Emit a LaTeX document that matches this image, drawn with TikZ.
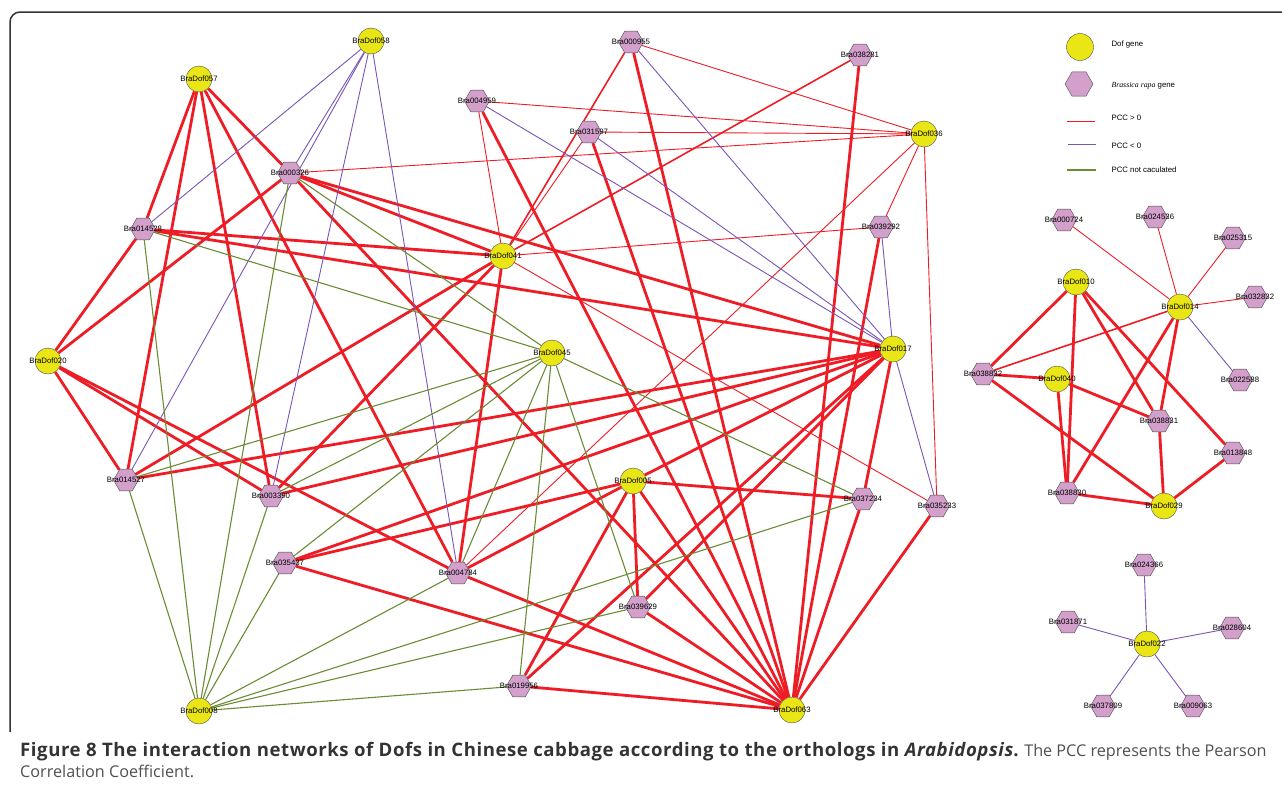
\documentclass[tikz,border=0pt]{standalone}
\usepackage{fontspec}
\setmainfont{Liberation Sans}
\newfontfamily\captionfont{Open Sans}
\newfontfamily\legendserif{Liberation Serif}
\usetikzlibrary{shapes.geometric}
\definecolor{dofYellow}{HTML}{EAE616}
\definecolor{braPink}{HTML}{D2A0CB}
\definecolor{colPos}{HTML}{EE1D25}
\definecolor{colNeg}{HTML}{7A55B5}
\definecolor{colNA}{HTML}{6A8C34}
\definecolor{frameGrey}{HTML}{333333}
\definecolor{capGrey}{HTML}{505050}
\definecolor{capDark}{HTML}{333333}
\pgfdeclarelayer{background}
\pgfsetlayers{background,main}

\begin{document}
\begin{tikzpicture}[x=1pt, y=-1pt, font=\fontsize{7.8}{9}\selectfont,
    dof/.style={circle, draw=black!70, fill=dofYellow, minimum size=26pt, inner sep=0pt},
    gene/.style={regular polygon, regular polygon sides=6, draw=black!70, fill=braPink,
                 minimum size=25pt, inner sep=0pt},
    pccpos/.style={colPos, line width=2.8pt},
    pccposmid/.style={colPos, line width=1.6pt},
    pccposthin/.style={colPos, line width=0.9pt},
    pccneg/.style={colNeg, line width=0.9pt},
    pccna/.style={colNA, line width=1.1pt},
    captext/.style={anchor=base west, inner sep=0pt, text=capGrey,
                    font=\captionfont\fontsize{16.2}{21}\selectfont}]
    \useasboundingbox (0,0) rectangle (1282,793);
    \draw[frameGrey, line width=1.5pt, rounded corners=10pt] (10,732) -- (10,12) -- (1282,12);

    \foreach \n/\x/\y in {057/199/79, 058/371/41, 036/924/134, 041/503/256, 020/48/361,
                          045/552/353, 017/893/349, 005/633/481, 008/199/711, 063/792/710,
                          010/1076/282, 014/1180/307, 040/1057/379, 029/1164/506, 022/1147/644}
      \node[dof, label={center:BraDof\n}] (d\n) at (\x,\y) {};
    \foreach \n/\x/\y in {000955/631/42, 038281/860/55, 004959/477/101, 031597/589/132,
                          000326/290/173, 014528/143/229, 039292/881/227, 014527/126/480,
                          003390/271/496, 037234/863/499, 035233/937/506, 035437/285/563,
                          004784/458/573, 039629/638/607, 019956/519/686,
                          000724/1064/220, 024536/1155/217, 025315/1233/238, 032832/1255/297,
                          038832/983/374, 022588/1240/380, 038831/1159/421, 013848/1233/453,
                          038830/1067/493, 024366/1144/565, 031871/1068/622, 028604/1232/628,
                          037809/1103/706, 009063/1193/706}
      \node[gene, label={center:Bra\n}] (b\n) at (\x,\y) {};

    \begin{pgfonlayer}{background}
    \foreach \a/\b in {d057/b014528, d057/b014527, d057/b003390, d057/b004784, d057/b000326,
                       d020/b014528, d020/b000326, d020/b014527, d020/b003390, d020/b004784,
                       b000326/d041, b000326/d017, b000326/d063, b014528/d041, b014528/d017,
                       d041/b014527, d041/b003390, d041/b004784,
                       d017/b014527, d017/b003390, d017/b035437, d017/d005, d017/b019956,
                       d017/b039629, d017/b037234,
                       d005/b035437, d005/b004784, d005/b037234, d005/b019956, d005/b039629, d005/d063,
                       d063/b000955, d063/b038281, d063/b004959, d063/b031597, d063/b039292,
                       d063/b037234, d063/b035233, d063/b039629, d063/b004784, d063/b035437,
                       d063/b019956,
                       d014/b038830, d014/b038831, d010/b038832, d010/b038830, d010/b038831,
                       d010/b013848, d040/b038832, d040/b038830, d040/b038831,
                       d029/b038832, d029/b038830, d029/b038831, d029/b013848}
      \draw[pccpos] (\a) -- (\b);
    \foreach \a/\b in {b000955/d041, b038281/d041, d014/b038832}
      \draw[pccposmid] (\a) -- (\b);
    \foreach \a/\b in {d036/b000955, d036/b004959, d036/b031597, d036/b000326, d036/b039292,
                       d036/b035233, d036/b004784, d041/b004959, d041/b031597, d041/b039292,
                       d041/b035233, d014/b000724, d014/b024536, d014/b025315, d014/b032832}
      \draw[pccposthin] (\a) -- (\b);
    \foreach \a/\b in {d058/b014528, d058/b000326, d058/b014527, d058/b003390, d058/b004784,
                       d017/b000955, d017/b004959, d017/b031597, d017/b039292, d017/b035233,
                       d014/b022588, d022/b024366, d022/b031871, d022/b028604, d022/b037809,
                       d022/b009063}
      \draw[pccneg] (\a) -- (\b);
    \foreach \a/\b in {d045/b000326, d045/b014528, d045/b014527, d045/b003390, d045/b035437,
                       d045/b004784, d045/b019956, d045/b039629, d045/b037234,
                       d008/b014527, d008/b014528, d008/b000326, d008/b003390, d008/b035437,
                       d008/b004784, d008/b037234, d008/b039629, d008/b019956}
      \draw[pccna] (\a) -- (\b);
    \end{pgfonlayer}

    \node[dof, minimum size=27pt] (keydof) at (1080,47) {};
    \node[anchor=west] (keydoftxt) at (1108,44) {Dof gene};
    \node[gene, minimum size=28pt] (keygene) at (1079,84) {};
    \node[anchor=west] (keygenetxt) at (1108,86) {{\legendserif\itshape Brassica rapa} gene};
    \coordinate (keypos1) at (1067,121);
    \coordinate (keypos2) at (1095,121);
    \coordinate (keyneg1) at (1068,144);
    \coordinate (keyneg2) at (1096,144);
    \coordinate (keyna1) at (1067,170);
    \coordinate (keyna2) at (1096,170);
    \draw[pccposthin] (keypos1) -- (keypos2);
    \draw[pccneg] (keyneg1) -- (keyneg2);
    \draw[pccna] (keyna1) -- (keyna2);
    \node[anchor=west] (keypostxt) at (1108,118) {PCC > 0};
    \node[anchor=west] (keynegtxt) at (1108,146) {PCC < 0};
    \node[anchor=west] (keynatxt) at (1108,170) {PCC not caculated};

    \node[captext] (caption1) at (20,756)
      {{\fontsize{18.6}{21}\selectfont\addfontfeature{LetterSpace=3}\color{capDark}\bfseries Figure 8 The interaction networks of Dofs in Chinese cabbage according to the orthologs in \textit{Arabidopsis}.} The PCC represents the Pearson};
    \node[captext] (caption2) at (20,777) {Correlation Coefficient.};
\end{tikzpicture}
\end{document}
